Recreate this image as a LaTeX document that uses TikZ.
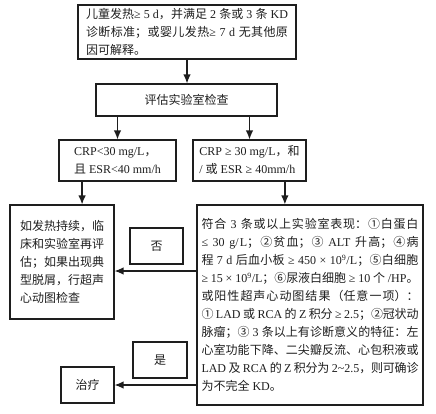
\documentclass[tikz,border=0pt]{standalone}
\usepackage{fontspec}
\setmainfont{Liberation Serif}
\newfontfamily\cjkfont{Noto Sans CJK SC}
\usetikzlibrary{arrows.meta, positioning, calc}
\definecolor{LineInk}{RGB}{30, 30, 30}
% CJK characters switch to the CJK family, everything else stays Latin
\newXeTeXintercharclass\CjkClass
\makeatletter
\def\SetCjkRange#1#2{\count@=#1\relax
  \loop\XeTeXcharclass\count@=\CjkClass\advance\count@ 1\relax
  \ifnum\count@<#2\repeat}
\makeatother
\SetCjkRange{"2460}{"2500}
\SetCjkRange{"3000}{"3040}
\SetCjkRange{"4E00}{"A000}
\SetCjkRange{"FF00}{"FFF0}
\XeTeXinterchartoks 0 \CjkClass = {\cjkfont}
\XeTeXinterchartoks 4095 \CjkClass = {\cjkfont}
\XeTeXinterchartoks \CjkClass 0 = {\rmfamily}
\XeTeXinterchartoks \CjkClass 4095 = {\rmfamily}
\XeTeXinterchartokenstate=1
\XeTeXlinebreaklocale "zh"
\XeTeXlinebreakskip=0pt plus 1pt minus 0.3pt

\begin{document}
\begin{tikzpicture}[x=1pt, y=-1pt,
    box/.style={draw=LineInk, line width=1.1pt, inner sep=0pt, text=LineInk,
      font=\fontsize{12}{18}\selectfont},
    para/.style={box, align=justify},
    arr/.style={draw=LineInk, line width=1.3pt, -{Latex[length=9pt, width=7.5pt]}}
  ]
  \useasboundingbox (0,0) rectangle (436,414);

  \node[para, text width=202pt, inner xsep=8pt, minimum height=54pt] (fever) at (187,32) {
    儿童发热≥ 5 d，并满足 2 条或 3 条 KD\linebreak
    诊断标准；或婴儿发热≥ 7 d 无其他原\linebreak
    因可解释。
  };
  \node[box, minimum width=181pt, minimum height=32pt] (lab) at (186.5,100) {评估实验室检查};

  \node[box, align=left, minimum width=117pt, minimum height=41pt] (low) at (117.5,160.5) {
    CRP<30 mg/L，\\
    且 ESR<40 mm/h
  };
  \node[box, align=left, minimum width=113pt, minimum height=41pt] (high) at (249.5,160.5) {
    CRP ≥ 30 mg/L，和\\
    / 或 ESR ≥ 40mm/h
  };

  \node[box, align=left, minimum width=104pt, minimum height=114pt] (recheck) at (62,262) {
    如发热持续，临\\
    床和实验室再评\\
    估；如果出现典\\
    型脱屑，行超声\\
    心动图检查
  };
  \node[para, text width=217pt, inner xsep=4.5pt, minimum height=200pt] (criteria) at (310,305) {
    符合 3 条或以上实验室表现：①白蛋白\linebreak
    ≤ 30 g/L；②贫血；③ ALT 升高；④病\linebreak
    程 7 d 后血小板 ≥ 450 × 10\textsuperscript{9}/L；⑤白细胞\linebreak
    ≥ 15 × 10\textsuperscript{9}/L；⑥尿液白细胞 ≥ 10 个 /HP。\linebreak
    或阳性超声心动图结果（任意一项）：\linebreak
    ① LAD 或 RCA 的 Z 积分 ≥ 2.5；②冠状动\linebreak
    脉瘤；③ 3 条以上有诊断意义的特征：左\linebreak
    心室功能下降、二尖瓣反流、心包积液或\linebreak
    LAD 及 RCA 的 Z 积分为 2\textasciitilde 2.5，则可确诊\linebreak
    为不完全 KD。
  };

  \node[box, minimum width=53pt, minimum height=36pt] (no) at (156.5,246) {否};
  \node[box, minimum width=54pt, minimum height=36pt] (yes) at (160,360) {是};
  \node[box, minimum width=53pt, minimum height=36pt] (treat) at (87.5,385) {治疗};

  \draw[arr] (fever.south) -- (fever.south |- lab.north);
  \draw[arr] (low |- lab.south) -- (low);
  \draw[arr] (high |- lab.south) -- (high);
  \coordinate (lowout) at ($(low.south west)!0.2!(low.south east)$);
  \draw[arr] (lowout) -- (lowout |- recheck.north);
  \coordinate (highout) at ($(high.south west)!0.81!(high.south east)$);
  \draw[arr] (highout) -- (highout |- criteria.north);
  \coordinate (noin) at ([yshift=-9pt]recheck.east);
  \draw[arr] (criteria.west |- noin) -- (noin);
  \draw[arr] (criteria.west |- treat) -- (treat.east);
\end{tikzpicture}
\end{document}
